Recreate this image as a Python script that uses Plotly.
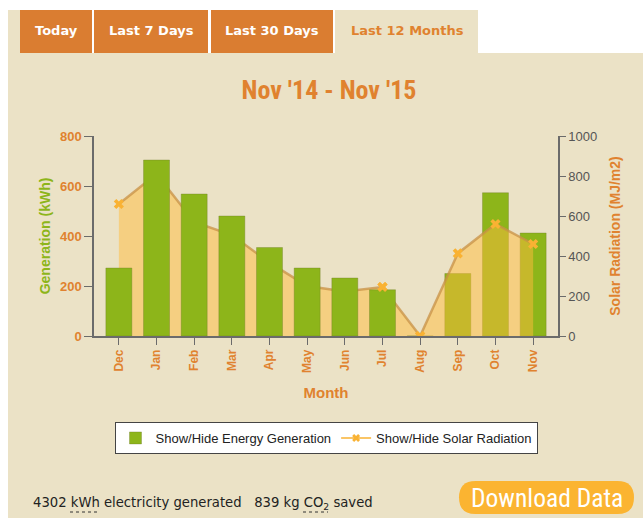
import plotly.graph_objects as go

months = ["Dec", "Jan", "Feb", "Mar", "Apr", "May", "Jun", "Jul", "Aug", "Sep", "Oct", "Nov"]
generation_kwh = [272, 704, 568, 480, 354, 272, 232, 185, 0, 250, 573, 412]
solar_radiation = [660, 810, 570, 505, 367, 250, 222, 245, 0, 413, 560, 460]
gen_ticks = [0, 200, 400, 600, 800]
rad_ticks = [0, 200, 400, 600, 800, 1000]

W, H = 643, 518
L, R, T, B = 94, 85, 136, 182
PW, PH = W - L - R, H - T - B

def px(p):
    return (p - L) / PW

def py(p):
    return (H - B - p) / PH

ORANGE = "#DA7D31"
TXT_ORANGE = "#E0822F"
GREEN = "#8DB51A"
BEIGE = "#EBE2C6"
FILL = "rgba(255,188,60,0.5)"
LINE = "rgba(200,145,70,0.75)"
MARK = "#F9B233"

split = months.index("Aug")

fig = go.Figure()

# Layer A: area under the bars (Dec..Aug)
fig.add_trace(go.Scatter(
    x=months[:split + 1], y=solar_radiation[:split + 1], yaxis="y",
    mode="lines+markers", fill="tozeroy", fillcolor=FILL,
    line=dict(color=LINE, width=2.5),
    marker=dict(symbol="x", size=9, color=MARK, line=dict(width=0)),
    showlegend=False, hoverinfo="skip"))

# Bars
fig.add_trace(go.Bar(
    x=months, y=generation_kwh, yaxis="y2", name="Show/Hide Energy Generation",
    marker=dict(color=GREEN, line=dict(color="rgba(110,120,40,0.35)", width=1)),
    width=0.69))

# Layer B: area over the bars (Aug..Nov)
fig.add_trace(go.Scatter(
    x=months[split:], y=solar_radiation[split:], yaxis="y3",
    mode="lines+markers", fill="tozeroy", fillcolor=FILL,
    line=dict(color=LINE, width=2.5),
    marker=dict(symbol="x", size=9, color=MARK, line=dict(width=0)),
    name="Show/Hide Solar Radiation", showlegend=False, hoverinfo="skip"))

fig.add_trace(go.Scatter(
    x=months[split - 1:split], y=solar_radiation[split - 1:split], yaxis="y3",
    mode="markers", marker=dict(symbol="x", size=9, color=MARK, line=dict(width=0)),
    showlegend=False, hoverinfo="skip"))

# Legend-only entry for radiation
fig.add_trace(go.Scatter(
    x=[None], y=[None], yaxis="y3", mode="lines+markers",
    name="Show/Hide Solar Radiation",
    line=dict(color=MARK, width=1.5),
    marker=dict(symbol="x", size=7, color=MARK)))

axis_line = "#6B6B6B"

fig.update_layout(
    width=W, height=H,
    margin=dict(l=L, r=R, t=T, b=B, pad=0),
    paper_bgcolor="white",
    plot_bgcolor="rgba(0,0,0,0)",
    font=dict(family="Liberation Sans, Arial, sans-serif"),
    bargap=0.3,
    xaxis=dict(
        type="category", range=[-0.66, 11.66],
        categoryorder="array", categoryarray=months,
        showline=True, linecolor=axis_line, linewidth=1.5,
        ticks="outside", ticklen=7, tickcolor=axis_line, tickwidth=1,
        tickangle=-90,
        tickfont=dict(size=12, color=TXT_ORANGE, family="Liberation Sans, Arial, sans-serif", weight="bold"),
        title=dict(text="<b>Month</b>", font=dict(size=15, color=TXT_ORANGE), standoff=16),
        showgrid=False, zeroline=False, fixedrange=True,
    ),
    yaxis=dict(
        side="right", range=[0, 1000], tickvals=rad_ticks,
        showline=True, linecolor=axis_line, linewidth=1.5,
        ticks="outside", ticklen=6, tickcolor=axis_line,
        tickfont=dict(size=13, color="#555555"),
        title=dict(text="<b>Solar Radiation (MJ/m2)</b>", font=dict(size=14, color=TXT_ORANGE), standoff=14),
        showgrid=False, zeroline=False,
    ),
    yaxis2=dict(
        side="left", overlaying="y", range=[0, 800], tickvals=gen_ticks,
        showline=True, linecolor=axis_line, linewidth=1.5,
        ticks="outside", ticklen=8, tickcolor=axis_line,
        tickfont=dict(size=13, color=TXT_ORANGE, weight="bold"),
        title=dict(text="<b>Generation (kWh)</b>", font=dict(size=14, color=GREEN), standoff=6),
        showgrid=False, zeroline=False,
    ),
    yaxis3=dict(overlaying="y", range=[0, 1000], visible=False, showgrid=False),
    legend=dict(
        orientation="h", x=0.5, xanchor="center", y=py(422), yanchor="top",
        bgcolor="white", bordercolor="#444444", borderwidth=1,
        font=dict(size=13, color="#222222"),
        traceorder="normal", itemwidth=30,
    ),
    title=dict(
        text="Nov '14 - Nov '15", x=px(329), xref="paper", xanchor="center",
        y=1 - 90 / H, yref="container", yanchor="middle",
        font=dict(size=26, color=TXT_ORANGE, family="Liberation Sans Narrow, Arial Narrow, Roboto Condensed, sans-serif", weight="bold"),
    ),
)

shapes = []
def rect(x0, y0, x1, y1, color, layer="below"):
    shapes.append(dict(type="rect", xref="paper", yref="paper",
                       x0=px(x0), x1=px(x1), y0=py(y1), y1=py(y0),
                       fillcolor=color, line=dict(width=0), layer=layer))

rect(8, 10, 478, 53, BEIGE)
rect(8, 53, 643, 518, BEIGE)
rect(20, 10, 335, 53, "white")
rect(20, 10, 92, 53, ORANGE)
rect(94, 10, 208, 53, ORANGE)
rect(211, 10, 333, 53, ORANGE)

# Download button (pill)
bx0, bx1, by0, by1 = 459, 634, 481, 514
r = (by1 - by0) / 2
path = (f"M {px(bx0 + r)},{py(by0)} L {px(bx1 - r)},{py(by0)} "
        f"Q {px(bx1)},{py(by0)} {px(bx1)},{py(by0 + r)} "
        f"Q {px(bx1)},{py(by1)} {px(bx1 - r)},{py(by1)} "
        f"L {px(bx0 + r)},{py(by1)} "
        f"Q {px(bx0)},{py(by1)} {px(bx0)},{py(by0 + r)} "
        f"Q {px(bx0)},{py(by0)} {px(bx0 + r)},{py(by0)} Z")
shapes.append(dict(type="path", xref="paper", yref="paper", path=path,
                   fillcolor="#FBB431", line=dict(width=0), layer="below"))

# dotted underlines (abbr)
for x0, x1 in [(70, 99), (303, 328)]:
    shapes.append(dict(type="line", xref="paper", yref="paper",
                       x0=px(x0), x1=px(x1), y0=py(512), y1=py(512),
                       line=dict(color="#333333", width=1, dash="dot"), layer="above"))

fig.update_layout(shapes=shapes)

tab_font = "DejaVu Sans, Verdana, sans-serif"
annotations = []
def label(text, x, y, size, color, family, xanchor="center", bold=False):
    annotations.append(dict(text=f"<b>{text}</b>" if bold else text, x=px(x), y=py(y),
                            xref="paper", yref="paper", xanchor=xanchor, yanchor="middle",
                            showarrow=False, font=dict(size=size, color=color, family=family)))

label("Today", 56, 30, 13, "white", tab_font, bold=True)
label("Last 7 Days", 151, 30, 13, "white", tab_font, bold=True)
label("Last 30 Days", 272, 30, 13, "white", tab_font, bold=True)
label("Last 12 Months", 407, 30, 13, TXT_ORANGE, tab_font, bold=True)
label("4302 kWh electricity generated   839 kg CO<sub>2</sub> saved", 31, 503, 13.2, "#222222", tab_font, xanchor="left")
label("Download Data", (bx0 + bx1) / 2, 498, 25.5, "white", "Liberation Sans Narrow, Roboto Condensed, sans-serif")

fig.update_layout(annotations=annotations)

fig.write_html("out.html", config={"displayModeBar": False},
               post_script="document.body.style.margin='0';document.body.style.padding='0';")
